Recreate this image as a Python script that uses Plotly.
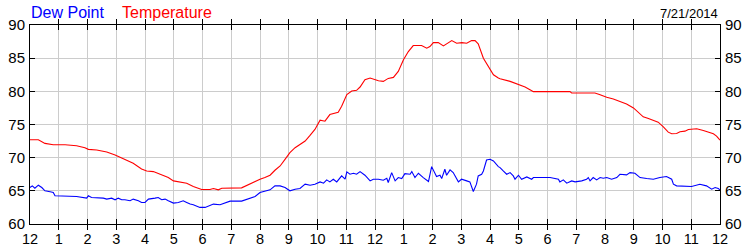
import plotly.graph_objects as go

# Temperature (hours since midnight, °F)
temp_hours = [0, 0.29, 0.52, 0.81, 1.22, 1.62, 1.91, 2.03, 2.32, 2.55, 2.67, 2.96, 3.30, 3.59, 3.88, 4.06,
              4.29, 4.52, 4.81, 4.99, 5.22, 5.45, 5.68, 5.86, 5.97, 6.26, 6.38, 6.55, 6.67, 7.36, 7.54, 7.65,
              8.0, 8.17, 8.35, 8.52, 8.70, 8.87, 9.04, 9.22, 9.39, 9.57, 9.74, 9.91, 10.09, 10.26, 10.43,
              10.61, 10.72, 10.84, 11.02, 11.19, 11.36, 11.48, 11.65, 11.83, 12.0, 12.12, 12.29, 12.46,
              12.64, 12.81, 12.99, 13.16, 13.33, 13.51, 13.62, 13.80, 13.91, 14.03, 14.20, 14.38, 14.55,
              14.67, 14.84, 15.02, 15.19, 15.36, 15.48, 15.59, 15.77, 15.94, 16.12, 16.29,
              16.35, 16.70, 16.87, 17.04, 17.22, 17.39, 17.51, 18.09, 18.78, 18.84, 19.65, 19.83, 20.06,
              20.29, 20.52, 20.75, 20.99, 21.16, 21.33, 21.51, 21.68, 21.85, 22.03, 22.20, 22.32, 22.49,
              22.61, 22.78, 22.90, 23.07, 23.19, 23.42, 23.59, 23.77, 23.88, 24.0]
temp_values = [72.7, 72.7, 72.15, 71.95, 71.95, 71.8, 71.5, 71.25, 71.15, 71.0, 70.85, 70.4, 69.75, 69.15,
               68.3, 68.0, 67.9, 67.55, 67.0, 66.5, 66.3, 66.15, 65.65, 65.4, 65.2, 65.2, 65.35, 65.15, 65.4,
               65.45, 65.85, 66.1,
               66.75, 67.0, 67.35, 68.1, 68.75, 69.75, 70.75, 71.5, 72.0, 72.5, 73.35, 74.25, 75.65, 75.5,
               76.5, 76.75, 76.85, 77.75, 79.5, 80.05, 80.15, 80.65, 81.75, 82.0, 81.75, 81.6, 81.5, 81.95,
               82.1, 83.0, 84.75, 86.0, 86.9, 86.85, 86.9, 86.5, 86.75, 87.35, 87.35, 86.85, 87.25, 87.65,
               87.25, 87.35, 87.25, 87.65, 87.65, 87.15, 85.0, 83.85, 82.5, 82.0,
               81.9, 81.5, 81.25, 80.95, 80.65, 80.25, 79.95, 79.95, 79.95, 79.75, 79.75, 79.5, 79.1,
               78.85, 78.5, 78.1, 77.5, 76.85, 76.15, 75.9, 75.65, 75.35, 74.65, 73.85, 73.6, 73.65, 73.9,
               74.0, 74.25, 74.25, 74.35, 74.1, 73.85, 73.6, 73.25, 72.65]

# Dew point (hours since midnight, °F)
dew_hours = [0, 0.08, 0.17, 0.29, 0.41, 0.52, 0.70, 0.81, 0.87, 1.22, 1.28, 1.62, 1.97, 2.03, 2.14, 2.55,
             2.67, 2.84, 2.96, 3.07, 3.19, 3.30, 3.48, 3.59, 3.77, 3.88, 4.0, 4.12, 4.35, 4.46, 4.58, 4.70,
             4.81, 4.99, 5.16, 5.33, 5.45, 5.57, 5.68, 5.91, 6.09, 6.26, 6.38, 6.61, 6.84, 6.96, 7.36, 7.54,
             7.65, 7.83, 8.0, 8.17, 8.35, 8.52, 8.70, 8.87, 9.04, 9.22, 9.39, 9.57, 9.74, 9.91, 10.09,
             10.21, 10.32, 10.43, 10.55, 10.67, 10.84, 10.96, 11.02, 11.13, 11.25, 11.36, 11.48, 11.65,
             11.83, 11.94, 12.12, 12.29, 12.41, 12.46, 12.58, 12.70, 12.81, 12.93, 13.04, 13.22, 13.28,
             13.39, 13.51, 13.68, 13.86, 13.97, 14.14, 14.26, 14.32, 14.43, 14.49, 14.61, 14.72, 14.90,
             15.01, 15.19, 15.30, 15.42, 15.53, 15.59, 15.71, 15.77, 15.88, 16.0, 16.12, 16.29,
             16.35, 16.46, 16.58, 16.70, 16.81, 16.87, 16.99, 17.10, 17.28, 17.45, 17.51, 17.74, 18.09,
             18.38, 18.43, 18.55, 18.67, 18.84, 18.96, 19.19, 19.36, 19.42, 19.48, 19.59, 19.71, 19.83,
             19.94, 20.06, 20.23, 20.41, 20.52, 20.75, 20.87, 21.04, 21.22, 21.45, 21.68, 21.91, 22.14,
             22.32, 22.38, 22.49, 22.72, 22.84, 23.01, 23.30, 23.53, 23.71, 23.83, 23.94, 24.0]
dew_values = [65.5, 65.75, 65.4, 65.85, 65.5, 65.0, 64.85, 64.75, 64.25, 64.25, 64.15, 64.15, 63.9, 64.25,
              64.0, 63.9, 63.75, 63.9, 63.65, 63.9, 63.65, 63.65, 63.5, 63.75, 63.5, 63.25, 63.25, 63.75,
              63.9, 64.0, 63.65, 63.75, 63.5, 63.15, 63.25, 63.5, 63.25, 63.0, 62.9, 62.5, 62.5, 62.75,
              63.0, 62.9, 63.25, 63.45, 63.45, 63.75,
              63.9, 64.15, 64.75, 65.0, 65.15, 65.75, 65.75, 65.5, 65.0, 65.25, 65.35, 66.0, 65.85, 66.0,
              66.35, 66.15, 66.65, 66.35, 66.75, 66.35, 67.25, 66.75, 67.85, 67.5, 67.65, 67.5, 67.9,
              67.35, 66.5, 66.75, 66.75, 66.6, 66.9, 66.25, 67.75, 66.5, 67.0, 66.85, 67.6, 67.5, 67.9,
              67.0, 67.65, 67.0, 66.4, 68.65, 67.15, 67.35, 66.85, 68.25, 67.35, 68.15, 67.75, 66.35,
              66.75, 66.5, 66.35, 64.9, 66.0, 67.25, 67.5, 68.0, 69.65, 69.75, 69.5, 68.65,
              68.5, 68.0, 67.5, 67.75, 67.25, 66.75, 67.35, 66.75, 67.1, 66.75, 67.0, 67.0, 67.0,
              66.75, 66.35, 66.65, 66.15, 66.5, 66.35, 66.5, 66.75, 67.0, 66.5, 67.0, 66.65, 67.0,
              66.9, 67.0, 66.75, 67.0, 67.5, 67.4, 67.75, 67.65, 67.0, 66.85, 66.75, 67.0, 67.15,
              66.75, 66.0, 65.75, 65.75, 65.65, 65.65, 66.0, 65.75, 65.25, 65.5, 65.35, 65.15]

x_tickvals = list(range(0, 25))
x_ticklabels = ["12", "1", "2", "3", "4", "5", "6", "7", "8", "9", "10", "11",
                "12", "1", "2", "3", "4", "5", "6", "7", "8", "9", "10", "11", "12"]
y_ticks = [60, 65, 70, 75, 80, 85, 90]

FONT = "Liberation Sans, Arial, sans-serif"

fig = go.Figure()
fig.add_trace(go.Scatter(x=temp_hours, y=temp_values, mode="lines",
                         line=dict(color="#FF0000", width=1.1), name="Temperature"))
fig.add_trace(go.Scatter(x=dew_hours, y=dew_values, mode="lines",
                         line=dict(color="#0000FF", width=1.1), name="Dew Point"))
# invisible trace to carry the right-hand axis
fig.add_trace(go.Scatter(x=[0, 24], y=[60, 90], mode="lines", yaxis="y2",
                         line=dict(color="rgba(0,0,0,0)"), hoverinfo="skip", showlegend=False))

fig.update_layout(
    width=750, height=250,
    margin=dict(l=30, r=30, t=25, b=26, autoexpand=False),
    paper_bgcolor="white", plot_bgcolor="white",
    showlegend=False,
    font=dict(family=FONT, size=14, color="black"),
    xaxis=dict(range=[0, 24], tickvals=x_tickvals, ticktext=x_ticklabels,
               showgrid=True, gridcolor="#CCCCCC", gridwidth=1, automargin=False,
               showline=True, linecolor="black", linewidth=1, mirror="allticks",
               ticks="inside", ticklen=5, tickcolor="black", tickwidth=1, zeroline=False,
               ticklabelstandoff=2,
               tickfont=dict(size=14.5, family=FONT)),
    yaxis=dict(range=[60, 90], tickvals=y_ticks, automargin=False,
               showgrid=True, gridcolor="#CCCCCC", gridwidth=1,
               showline=True, linecolor="black", linewidth=1, mirror="allticks",
               ticks="inside", ticklen=5, tickcolor="black", tickwidth=1,
               zeroline=False, ticklabelstandoff=1,
               tickfont=dict(size=15, family=FONT)),
    yaxis2=dict(range=[60, 90], tickvals=y_ticks, overlaying="y", side="right",
                automargin=False,
                showgrid=False, showline=False, ticks="", zeroline=False,
                ticklabelstandoff=4,
                tickfont=dict(size=15, family=FONT)),
)
fig.add_annotation(text="Dew Point", xref="paper", yref="paper", x=-0.001, y=1.0,
                   xanchor="left", yanchor="bottom", yshift=2, showarrow=False,
                   font=dict(color="#0000FF", size=16, family=FONT))
fig.add_annotation(text="Temperature", xref="paper", yref="paper", x=0.1305, y=1.0,
                   xanchor="left", yanchor="bottom", yshift=2, showarrow=False,
                   font=dict(color="#FF0000", size=16, family=FONT))
fig.add_annotation(text="7/21/2014", xref="paper", yref="paper", x=1.0, y=1.0,
                   xanchor="right", yanchor="bottom", yshift=2, showarrow=False,
                   font=dict(color="black", size=13, family=FONT))

fig.write_html("out.html")
